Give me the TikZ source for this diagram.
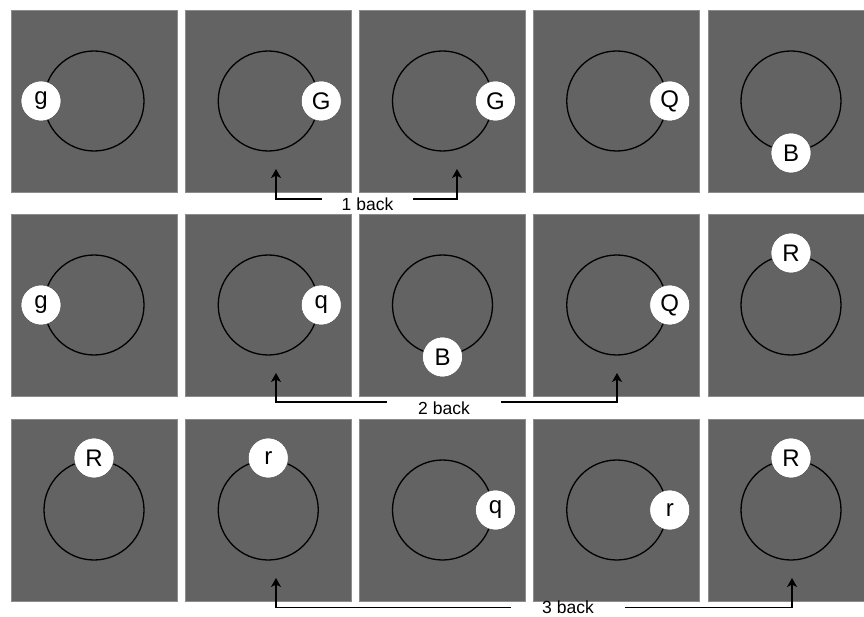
\documentclass[tikz,border=0pt]{standalone}
\usepackage{fontspec}
\setmainfont{Liberation Sans}
\usetikzlibrary{arrows.meta}
\definecolor{panelgray}{RGB}{99,99,99}
\definecolor{edgegray}{RGB}{140,140,140}
\begin{document}
\begin{tikzpicture}[x=1pt,y=-1pt,
  panel/.style={rectangle,fill=panelgray,draw=edgegray,line width=0.6pt,minimum width=166pt,minimum height=182pt,inner sep=0pt},
  track/.style={circle,draw=black,line width=1.3pt,minimum size=100pt,inner sep=0pt},
  letter/.style={circle,fill=white,draw=black!70,line width=0.5pt,minimum size=40pt,inner sep=0pt,font=\fontsize{24}{27}\selectfont},
  lbl/.style={inner ysep=0pt,font=\fontsize{17.5}{20}\selectfont},
  arr/.style={line width=1.8pt,-{Stealth[length=9pt,width=10pt,inset=2.5pt]}}]
\useasboundingbox (0,0) rectangle (864,617);
\clip (0,0) rectangle (864,617);
\fill[white] (0,0) rectangle (864,617);
\foreach \c/\px in {1/11,2/185.25,3/359.5,4/533.75,5/708}{
  \foreach \r/\py in {1/10,2/214,3/419}{
    \node[panel] (p\r\c) at (\px+83,\py+91) {};
    \node[track] (c\r\c) at (p\r\c) {};
  }
}
\foreach \r/\c/\t/\dx/\dy in {1/1/g/-53/0,1/2/G/53/0,1/3/G/53/0,1/4/Q/53/0,1/5/B/0/-52,
  2/1/g/-53/0,2/2/q/53/0,2/3/B/0/-52,2/4/Q/53/0,2/5/R/0/52,
  3/1/R/0/52,3/2/r/0/52,3/3/q/53/0,3/4/r/53/0,3/5/R/0/52}{
  \node[letter] (l\r\c) at ([xshift=\dx pt,yshift=\dy pt]c\r\c.center) {\t};
}
% arrow tips
\coordinate (a1) at (276,169);
\coordinate (b1) at (457,169);
\coordinate (a2) at (276,373);
\coordinate (b2) at (617,373);
\coordinate (a3) at (276,578);
\coordinate (b3) at (792,578);
% labels
\node[lbl,inner xsep=20pt] (t1) at (367.5,204) {1 back};
\node[lbl,inner xsep=31pt] (t2) at (444,408) {2 back};
\node[lbl,inner xsep=31pt] (t3) at (568,607.5) {3 back};
\draw[arr] ([yshift=5pt]t1.west) -| (a1);
\draw[arr] ([yshift=5pt]t1.east) -| (b1);
\draw[arr] ([yshift=6pt]t2.west) -| (a2);
\draw[arr] ([yshift=6pt]t2.east) -| (b2);
\draw[arr] (t3.west) -| (a3);
\draw[arr] (t3.east) -| (b3);
\end{tikzpicture}
\end{document}
